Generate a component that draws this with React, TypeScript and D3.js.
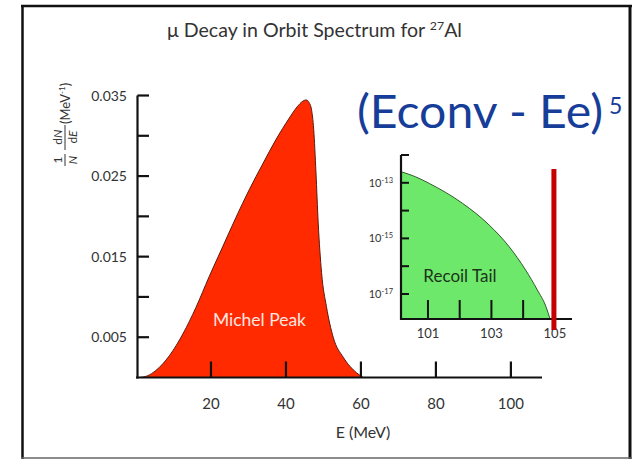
import React from "react";
import * as d3 from "d3";

// ---- data ----
const michelE = [0.8, 3, 5.3, 8.9, 12.5, 16, 19.5, 23.1, 26.7, 30.2, 33.8, 37.3, 40.9, 43, 44.5, 45.4, 46.2, 46.8, 47.4, 48, 48.6, 49.5, 50.8, 52.6, 55.3, 58.8, 60.6];
const michelV = [0, 0.0002, 0.00087, 0.0027, 0.0054, 0.0087, 0.0125, 0.0162, 0.0199, 0.0233, 0.0265, 0.0295, 0.0322, 0.0336, 0.0343, 0.03445, 0.0341, 0.0333, 0.0308, 0.0255, 0.0192, 0.013, 0.0088, 0.005, 0.0025, 0.0006, 0];

const tailE = [100.15, 100.6, 101.04, 102.09, 102.93, 103.56, 104.08, 104.45, 104.72, 104.84];
const tailV = [2.51e-13, 1.66e-13, 9.5e-14, 1.82e-14, 3.02e-15, 5.0e-16, 7.2e-17, 1.38e-17, 3.47e-18, 1.35e-18];

const signalE = 104.97;

const mainXTicks = [20, 40, 60, 80, 100];
const mainYTicks = [0.005, 0.01, 0.015, 0.02, 0.025, 0.03, 0.035];
const mainYLabels = ["0.005", "", "0.015", "", "0.025", "", "0.035"];
const insetXTicks = [101, 102, 103, 104, 105];
const insetXLabels = ["101", "", "103", "", "105"];
const insetYExp = [-17, -16, -15, -14, -13, -12];
const insetYLabels = ["-17", "", "-15", "", "-13", ""];

const title = "\u03bc Decay in Orbit Spectrum for ";
const FONT = "Lato, 'Open Sans', sans-serif";

export default function App() {
  // main scales
  const x = d3.scaleLinear().domain([0, 108.3]).range([136, 542]);
  const y = d3.scaleLinear().domain([0, 0.035]).range([377.5, 95.5]);
  // inset scales
  const ix = d3.scaleLinear().domain([100.15, 105.54]).range([401, 572]);
  const iy = d3.scaleLog().domain([Math.pow(10, -17.9), 1e-12]).range([319, 155]);

  const michel = michelE.map((e, i) => [e, michelV[i]] as [number, number]);
  const michelArea = d3
    .area<[number, number]>()
    .x((d) => x(d[0]))
    .y0(y(0))
    .y1((d) => y(d[1]))
    .curve(d3.curveMonotoneX)(michel);

  const tail = tailE.map((e, i) => [e, tailV[i]] as [number, number]);
  const tailArea = d3
    .area<[number, number]>()
    .x((d) => ix(d[0]))
    .y0(iy.range()[0])
    .y1((d) => iy(d[1]))
    .curve(d3.curveMonotoneX)(tail);
  const tailLine = d3
    .line<[number, number]>()
    .x((d) => ix(d[0]))
    .y((d) => iy(d[1]))
    .curve(d3.curveMonotoneX)(tail);

  const txt = "#333";

  return (
    <svg
      width={640}
      height={460}
      style={{ position: "absolute", left: 0, top: 0, background: "#fff" }}
      fontFamily={FONT}
    >
      {/* frame */}
      <line x1={22.5} y1={5} x2={22.5} y2={459} stroke="#111" strokeWidth={2.5} />
      <line x1={21} y1={6} x2={632} y2={6} stroke="#111" strokeWidth={2.5} />
      <line x1={630} y1={5} x2={630} y2={459} stroke="#111" strokeWidth={3} />
      <line x1={21} y1={458} x2={632} y2={458} stroke="#666" strokeWidth={1.5} />

      {/* title */}
      <text x={167} y={37} fontSize={19} fill={txt} textLength={295} lengthAdjust="spacingAndGlyphs">
        {title}
        <tspan fontSize={12} dy={-7}>27</tspan>
        <tspan dy={7}>Al</tspan>
      </text>

      {/* Michel peak */}
      <path d={michelArea || ""} fill="#ff2a00" stroke="#5a1a10" strokeWidth={1} />
      <text x={213} y={326} fontSize={16.5} fill="#ffe6e0" textLength={93} lengthAdjust="spacingAndGlyphs">
        Michel Peak
      </text>

      {/* main axes */}
      <line x1={x(0) + 1.5} y1={y(0.035)} x2={x(0) + 1.5} y2={y(0) + 1} stroke="#111" strokeWidth={2.2} />
      <line x1={x(0)} y1={y(0)} x2={x(108.3)} y2={y(0)} stroke="#111" strokeWidth={2.2} />
      {mainYTicks.map((t, i) => (
        <g key={"yt" + i}>
          <line x1={x(0) + 1.5} x2={x(0) + 13} y1={y(t)} y2={y(t)} stroke="#111" strokeWidth={2.2} />
          {mainYLabels[i] && (
            <text x={127} y={y(t) + 5} textAnchor="end" fontSize={14} fill={txt}>
              {mainYLabels[i]}
            </text>
          )}
        </g>
      ))}
      {mainXTicks.map((t) => (
        <g key={"xt" + t}>
          <line x1={x(t)} x2={x(t)} y1={y(0)} y2={y(0) - 16} stroke="#111" strokeWidth={2.2} />
          <text x={x(t)} y={409} textAnchor="middle" fontSize={15} fill={txt}>
            {t}
          </text>
        </g>
      ))}
      <text x={363} y={438} textAnchor="middle" fontSize={16} fill={txt}>
        E (MeV)
      </text>

      {/* y label */}
      <g transform="translate(65,166) rotate(-90)" fill={txt}>
        <text x={6} y={-3} textAnchor="middle" fontSize={12}>1</text>
        <line x1={0} x2={12} y1={0} y2={0} stroke={txt} strokeWidth={1} />
        <text x={6} y={12} textAnchor="middle" fontSize={12} fontStyle="italic">N</text>
        <text x={29} y={-3} textAnchor="middle" fontSize={12}>
          d<tspan fontStyle="italic">N</tspan>
        </text>
        <line x1={16} x2={41} y1={0} y2={0} stroke={txt} strokeWidth={1} />
        <text x={29} y={12} textAnchor="middle" fontSize={12}>
          d<tspan fontStyle="italic">E</tspan>
        </text>
        <text x={42} y={5} fontSize={13}>
          (MeV<tspan fontSize={8} dy={-5}>-1</tspan>
          <tspan dy={5}>)</tspan>
        </text>
      </g>

      {/* big formula */}
      <text x={357} y={128} fontSize={46} fill="#163d98" textLength={246} lengthAdjust="spacingAndGlyphs">
        (Econv - Ee)
      </text>
      <text x={609} y={114} fontSize={23} fill="#163d98">
        5
      </text>

      {/* inset */}
      <path d={tailArea || ""} fill="#6ee86a" />
      <path d={tailLine || ""} fill="none" stroke="#2f5a2a" strokeWidth={1} />
      <line x1={ix.range()[0]} y1={155} x2={ix.range()[0]} y2={iy.range()[0] + 1} stroke="#111" strokeWidth={2.2} />
      <line x1={ix.range()[0]} y1={iy.range()[0]} x2={ix.range()[1]} y2={iy.range()[0]} stroke="#111" strokeWidth={2.2} />
      {insetYExp.map((p, i) => (
        <g key={"iy" + p}>
          <line x1={ix.range()[0]} x2={ix.range()[0] + 8} y1={iy(Math.pow(10, p))} y2={iy(Math.pow(10, p))} stroke="#111" strokeWidth={2} />
          {insetYLabels[i] && (
            <text x={393} y={iy(Math.pow(10, p)) + 4} textAnchor="end" fontSize={11} fill={txt}>
              10<tspan fontSize={7.5} dy={-4}>{insetYLabels[i]}</tspan>
            </text>
          )}
        </g>
      ))}
      {insetXTicks.map((t, i) => (
        <g key={"ix" + t}>
          <line x1={ix(t)} x2={ix(t)} y1={iy.range()[0]} y2={iy.range()[0] - 19} stroke="#111" strokeWidth={2} />
          {insetXLabels[i] && (
            <text x={ix(t)} y={338} textAnchor="middle" fontSize={13} fill={txt}>
              {insetXLabels[i]}
            </text>
          )}
        </g>
      ))}
      <text x={460} y={282} textAnchor="middle" fontSize={17} fill="#1c331c">
        Recoil Tail
      </text>

      {/* signal line */}
      <line
        x1={ix(signalE)}
        x2={ix(signalE)}
        y1={iy(Math.pow(10, -12.5))}
        y2={iy.range()[0] + 11}
        stroke="#c40000"
        strokeWidth={5}
      />
    </svg>
  );
}
